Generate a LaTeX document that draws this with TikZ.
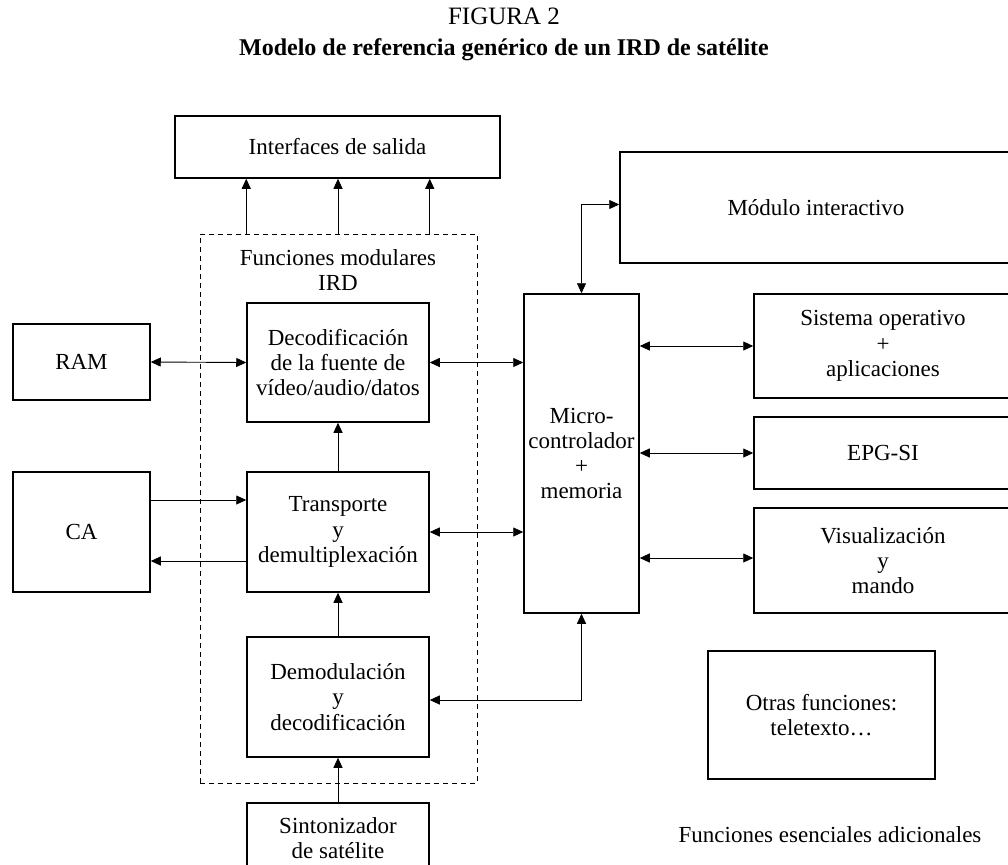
\documentclass[tikz,border=0pt]{standalone}
\usepackage{fontspec}
\setmainfont{Liberation Serif}
\usetikzlibrary{arrows.meta,calc}
\newcommand\dfont{\fontsize{11.5}{12.6}\selectfont}
\begin{document}
\begin{tikzpicture}[x=0.5pt,y=-0.5pt,
  box/.style={draw, line width=0.75pt, inner sep=0pt, align=center, font=\dfont},
  dbox/.style={draw, line width=0.4pt, dash pattern=on 2.5pt off 2pt, inner sep=0pt},
  txt/.style={inner sep=0pt, align=center, font=\dfont},
  tip/.tip={Triangle[length=5pt,width=4.5pt]},
  arr/.style={line width=0.45pt, -tip},
  barr/.style={line width=0.45pt, tip-tip}]
\useasboundingbox (0,0) rectangle (1008,864);
\clip (0,0) rectangle (1008,864);

\node[txt, font=\fontsize{12.5}{14}\selectfont] (fig) at (504,16) {FIGURA 2};
\node[txt, font=\fontsize{12}{14}\selectfont\bfseries] (tit) at (504,50) {Modelo de referencia genérico de un IRD de satélite};

\node[box, minimum width=162.5pt, minimum height=31pt] (ifs) at (337.5,147) {Interfaces de salida};
\node[dbox, minimum width=138.5pt, minimum height=274.5pt] (fm) at (338.5,508.5) {};
\node[txt] (fmt) at (338,270) {Funciones modulares\\IRD};

\node[box, minimum width=68.5pt, minimum height=38pt] (ram) at (81.5,362) {RAM};
\node[box, minimum width=91pt, minimum height=59.5pt] (dec) at (338,362.5) {Decodificación\\de la fuente de\\vídeo/audio/datos};
\node[box, minimum width=68.5pt, minimum height=60pt] (ca) at (81.5,532) {CA};
\node[box, minimum width=91pt, minimum height=60pt] (tr) at (338,532) {Transporte\\y\\demultiplexación};
\node[box, minimum width=91pt, minimum height=60pt] (dem) at (338,697) {Demodulación\\y\\decodificación};
\node[box, minimum width=91pt, minimum height=35pt] (sin) at (338,838) {Sintonizador\\de satélite};

\node[box, minimum width=57.5pt, minimum height=159.5pt] (mic) at (581.5,453.5) {Micro-\\controlador\\+\\memoria};
\node[box, minimum width=196pt, minimum height=55.5pt] (mod) at (816,207.5) {Módulo interactivo};
\node[box, minimum width=129pt, minimum height=52pt] (sis) at (883,346) {Sistema operativo\\+\\aplicaciones};
\node[box, minimum width=129pt, minimum height=36pt] (epg) at (883,453) {EPG-SI};
\node[box, minimum width=129pt, minimum height=52.5pt] (vis) at (883,560.5) {Visualización\\y\\mando};
\node[box, minimum width=113.5pt, minimum height=64pt] (ot) at (821.5,715) {Otras funciones:\\teletexto…};
\node[txt] (fea) at (830,835) {Funciones esenciales adicionales};

% helper coordinates
\coordinate (caout) at ($(ca.east)+(0,-32)$);
\coordinate (trout) at ($(tr.west)+(0,29)$);
\coordinate (demin) at ($(dem.east)+(0,3)$);
\coordinate (modin) at ($(mod.west)+(0,-3)$);
\coordinate (visin) at ($(vis.west)+(0,-2.5)$);

% arrows to output interfaces
\draw[arr] (dec.west |- fm.north) -- (dec.west |- ifs.south);
\draw[arr] (dec.north |- fm.north) -- (dec.north |- ifs.south);
\draw[arr] (dec.east |- fm.north) -- (dec.east |- ifs.south);

\draw[barr] (ram.east) -- (dec.west);
\draw[barr] (dec.east) -- (dec.east -| mic.west);
\draw[arr] (tr.north) -- (dec.south);
\draw[arr] (caout) -- (caout -| tr.west);
\draw[arr] (trout) -- (trout -| ca.east);
\draw[barr] (tr.east) -- (tr.east -| mic.west);
\draw[arr] (dem.north) -- (tr.south);
\draw[arr] (sin.north) -- (dem.south);
\draw[barr] (mic.south) |- (demin);
\draw[barr] (mic.north) |- (modin);
\draw[barr] (mic.east |- sis.west) -- (sis.west);
\draw[barr] (mic.east |- epg.west) -- (epg.west);
\draw[barr] (visin -| mic.east) -- (visin);
\end{tikzpicture}
\end{document}
